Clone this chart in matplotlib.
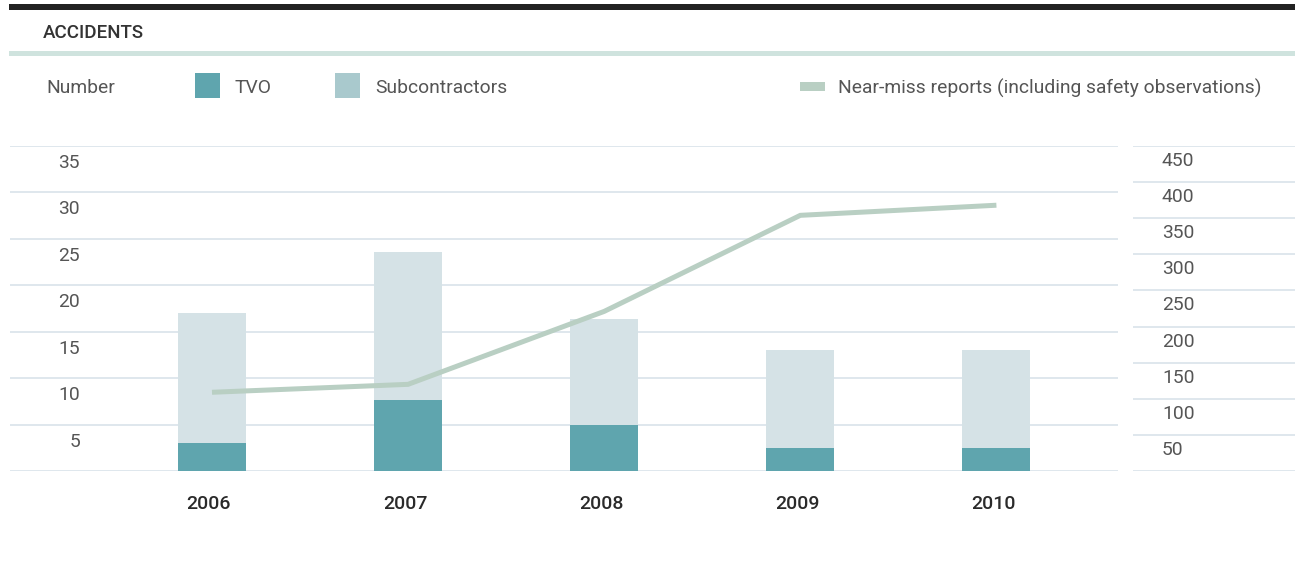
import matplotlib.pyplot as plt
from matplotlib.patches import Rectangle

plt.rcParams['font.family'] = ['Roboto', 'DejaVu Sans']

# accidents per year, split by employer, plus near-miss reports
years = ['2006', '2007', '2008', '2009', '2010']
tvo = [3, 7.6, 5, 2.5, 2.5]
subcontractors = [14, 16, 11.4, 10.5, 10.5]
near_miss = [109, 120, 221, 354, 368]
left_ticks = [5, 10, 15, 20, 25, 30, 35]
right_ticks = [50, 100, 150, 200, 250, 300, 350, 400, 450]

TVO_COLOR = '#5fa5ae'
SUB_COLOR = '#d5e2e6'
SUB_KEY_COLOR = '#a9c9cd'
LINE_COLOR = '#b9cfc3'
GRID_COLOR = '#d9e3ea'
TEXT_COLOR = '#555555'
FS = 13.9

W, H = 1300, 561
fig = plt.figure(figsize=(W / 100, H / 100), dpi=100)


def fx(px):
    return px / W


def fy(py):
    return 1 - py / H


def fig_rect(x0, y0, x1, y1, color):
    fig.patches.append(Rectangle((fx(x0), fy(y1)), fx(x1) - fx(x0), fy(y0) - fy(y1),
                                 transform=fig.transFigure, color=color, lw=0))


def label(x, y, s, **kw):
    fig.text(fx(x), fy(y), s, fontsize=FS, color=TEXT_COLOR, va='center', **kw)


# header
fig_rect(9, 4, 1295, 10, '#222222')
fig_rect(9, 51, 1295, 56, '#cfe3de')
fig.text(fx(43), fy(33), 'ACCIDENTS', fontsize=13.5, color='#333333',
         fontweight='medium', va='center', ha='left')

# legend row
label(46, 88, 'Number')
fig_rect(195, 73, 220, 98, TVO_COLOR)
label(235, 88, 'TVO')
fig_rect(335, 73, 360, 98, SUB_KEY_COLOR)
label(375, 88, 'Subcontractors')
fig_rect(800, 82, 825, 91, LINE_COLOR)
label(838, 88, 'Near-miss reports (including safety observations)')

# main panel: stacked bars on the left scale
bottom_px, top_px = 471, 146
ax = fig.add_axes([fx(10), fy(bottom_px), fx(1118) - fx(10), (bottom_px - top_px) / H])
x = list(range(len(years)))
ax.set_xlim(-1.03, 4.62)
ax.set_ylim(0, 35)
ax.axis('off')
for v in [0] + left_ticks:
    ax.axhline(v, color=GRID_COLOR, lw=1.2, zorder=1)
for v in left_ticks:
    ax.annotate(str(v), xy=(0, v), xycoords=('axes fraction', 'data'),
                xytext=(70, -17), textcoords='offset pixels',
                ha='right', va='center', fontsize=FS, color=TEXT_COLOR)
ax.bar(x, tvo, width=0.347, color=TVO_COLOR, zorder=2)
ax.bar(x, subcontractors, width=0.347, bottom=tvo, color=SUB_COLOR, zorder=2)
for xi, year in zip(x, years):
    ax.annotate(year, xy=(xi, 0), xycoords='data', xytext=(-3, -33),
                textcoords='offset pixels', ha='center', va='center',
                fontsize=14, color='#2a2a2a', fontweight='medium')

# near-miss line on the right scale
ax2 = ax.twinx()
ax2.set_ylim(0, 450)
ax2.axis('off')
ax2.plot(x, near_miss, color=LINE_COLOR, lw=3.6, solid_capstyle='butt',
         solid_joinstyle='miter', zorder=3)

# right-hand scale panel
rax = fig.add_axes([fx(1133), fy(bottom_px), fx(1295) - fx(1133), (bottom_px - top_px) / H])
rax.set_xlim(0, 1)
rax.set_ylim(0, 450)
rax.axis('off')
for v in [0] + right_ticks:
    rax.axhline(v, color=GRID_COLOR, lw=1.2)
for v in right_ticks:
    rax.annotate(str(v), xy=(0, v), xycoords=('axes fraction', 'data'),
                 xytext=(29, -15), textcoords='offset pixels',
                 ha='left', va='center', fontsize=FS, color=TEXT_COLOR)

fig.savefig('out.png', dpi=100)
